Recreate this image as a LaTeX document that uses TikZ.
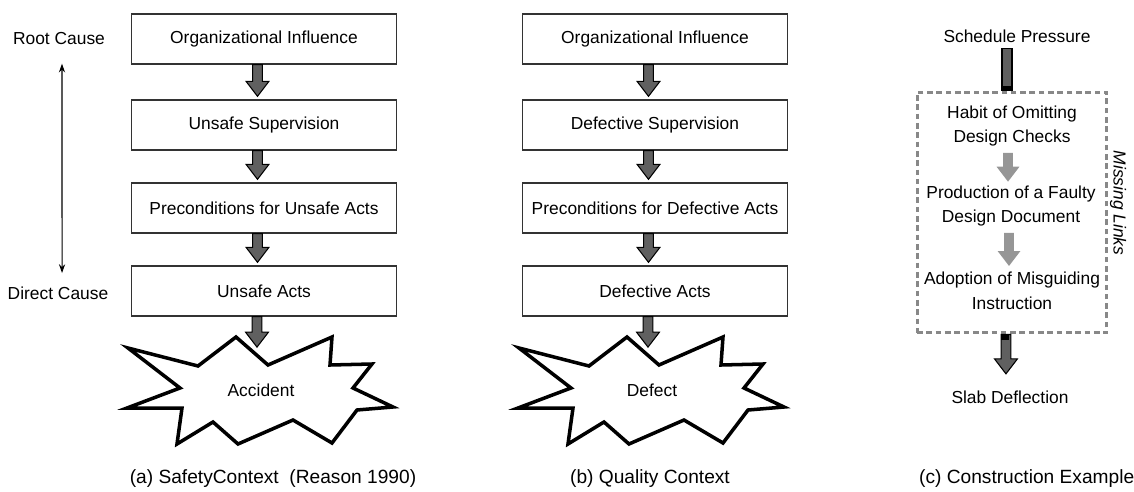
\documentclass[tikz,border=0pt]{standalone}
\usepackage{fontspec}
\setmainfont{Liberation Sans}
\usetikzlibrary{calc,arrows.meta}
\definecolor{arrowgray}{RGB}{96,96,96}
\definecolor{palegray}{RGB}{150,150,150}
\definecolor{dashgray}{RGB}{136,136,136}
\newcommand{\lab}{\fontsize{9.9}{14.2}\selectfont}
\newcommand{\capt}{\fontsize{10.9}{13}\selectfont}
\tikzset{
  box/.style={draw=black!80, line width=0.8pt, minimum width=5.3cm, minimum height=1cm, font=\lab},
  lab/.style={font=\lab, align=center},
  burst/.style={draw=black, line width=2pt, line join=miter, fill=white},
  fat/.style={draw=black, line width=0.6pt, fill=arrowgray},
  pale/.style={fill=palegray},
  subcap/.style={font=\capt},
  dashbox/.style={draw=dashgray, line width=1.7pt, dash pattern=on 3.2pt off 2.1pt},
}
% block arrow: style, start, tip
\newcommand{\fatarrow}[3]{%
  \path[#1] let \p1=(#2), \p2=(#3) in
    (\x2-2.8pt,\y1) -- (\x2-2.8pt,\y2+8.5pt) -- (\x2-6.5pt,\y2+8.5pt) -- (\x2,\y2)
    -- (\x2+6.5pt,\y2+8.5pt) -- (\x2+2.8pt,\y2+8.5pt) -- (\x2+2.8pt,\y1) -- cycle;}
\begin{document}
\begin{tikzpicture}[x=0.02cm, y=-0.02cm]
  \useasboundingbox (0,0) rectangle (1134,491);
  % (a) and (b)
  \foreach \dx/\k/\su/\pc/\ac/\ev/\capx/\captxt in {0/1/Unsafe Supervision/Preconditions for Unsafe Acts/Unsafe Acts/Accident/273/(a) SafetyContext\ \ (Reason 1990), 391/2/Defective Supervision/Preconditions for Defective Acts/Defective Acts/Defect/650/(b) Quality Context} {
      \node[box] (o\k) at (264+\dx,39) {Organizational Influence};
      \node[box] (s\k) at (264+\dx,125) {\su};
      \node[box] (p\k) at (264+\dx,208) {\pc};
      \node[box] (d\k) at (264+\dx,291) {\ac};
      \coordinate (x\k) at (257+\dx,390);
      \draw[burst, shift={(x\k)}] (-129,-42) -- (-59,-24) -- (-21,-53) -- (11,-25) -- (75,-53) -- (73,-25)
        -- (115,-26) -- (96,-2) -- (136,17) -- (100,20) -- (75,53) -- (36,30) -- (-19,54) -- (-44,32)
        -- (-80,54) -- (-75,18) -- (-130,18) -- (-77,-2) -- cycle;
      \node[lab] (e\k) at (261+\dx,390) {\ev};
      \fatarrow{fat}{o\k.south}{[xshift=-3.7pt,yshift=1.7pt]s\k.north}
      \fatarrow{fat}{s\k.south}{[xshift=-3.7pt,yshift=1.7pt]p\k.north}
      \fatarrow{fat}{p\k.south}{[xshift=-3.7pt,yshift=1.7pt]d\k.north}
      \fatarrow{fat}{d\k.south}{[yshift=24.4pt]x\k}
      \node[subcap] (c\k) at (\capx,479) {\captxt};
    }
  \node[lab] (root) at (59,39) {Root Cause};
  \node[lab] (direct) at (58,293) {Direct Cause};
  \draw[{Stealth[length=5pt,width=3.5pt]}-{Stealth[length=5pt,width=3.5pt]}, line width=0.6pt]
    ([xshift=1.7pt,yshift=-7pt]root.south) -- ([xshift=2.3pt,yshift=4.2pt]direct.north);
  % (c)
  \node[lab] (sched) at (1017,36) {Schedule Pressure};
  \node[dashbox, minimum width=3.8cm, minimum height=4.82cm] (links) at (1012,212.5) {};
  \node[lab] (habit) at (1012,126) {Habit of Omitting\\Design Checks};
  \node[lab] (prod) at (1011,206) {Production of a Faulty\\Design Document};
  \node[lab] (adopt) at (1012,291) {Adoption of Misguiding\\Instruction};
  \node[lab] (slab) at (1010,397) {Slab Deflection};
  \node[lab, font=\lab\itshape, rotate=-90] (miss) at (1118,203) {Missing Links};
  \path[fat] let \p1=(sched.south), \p2=(links.north) in (\x2-5.7pt,\y1) rectangle (\x2,\y2);
  \fill[black] let \p2=(links.north) in (\x2-5.7pt,\y2) rectangle (\x2,\y2+2.8pt);
  \fatarrow{pale}{habit.south}{[xshift=-1.7pt,yshift=-1.4pt]prod.north}
  \fatarrow{pale}{prod.south}{[xshift=-1.7pt]adopt.north}
  \fatarrow{fat}{links.south}{[xshift=-2.3pt,yshift=6pt]slab.north}
  \fill[black] let \p2=(links.south), \p3=(slab.north) in (\x3-5.1pt,\y2) rectangle (\x3-0.5pt,\y2-3.4pt);
  \node[subcap, anchor=west] (c3) at (913,479) {(c) Construction Example};
\end{tikzpicture}
\end{document}
